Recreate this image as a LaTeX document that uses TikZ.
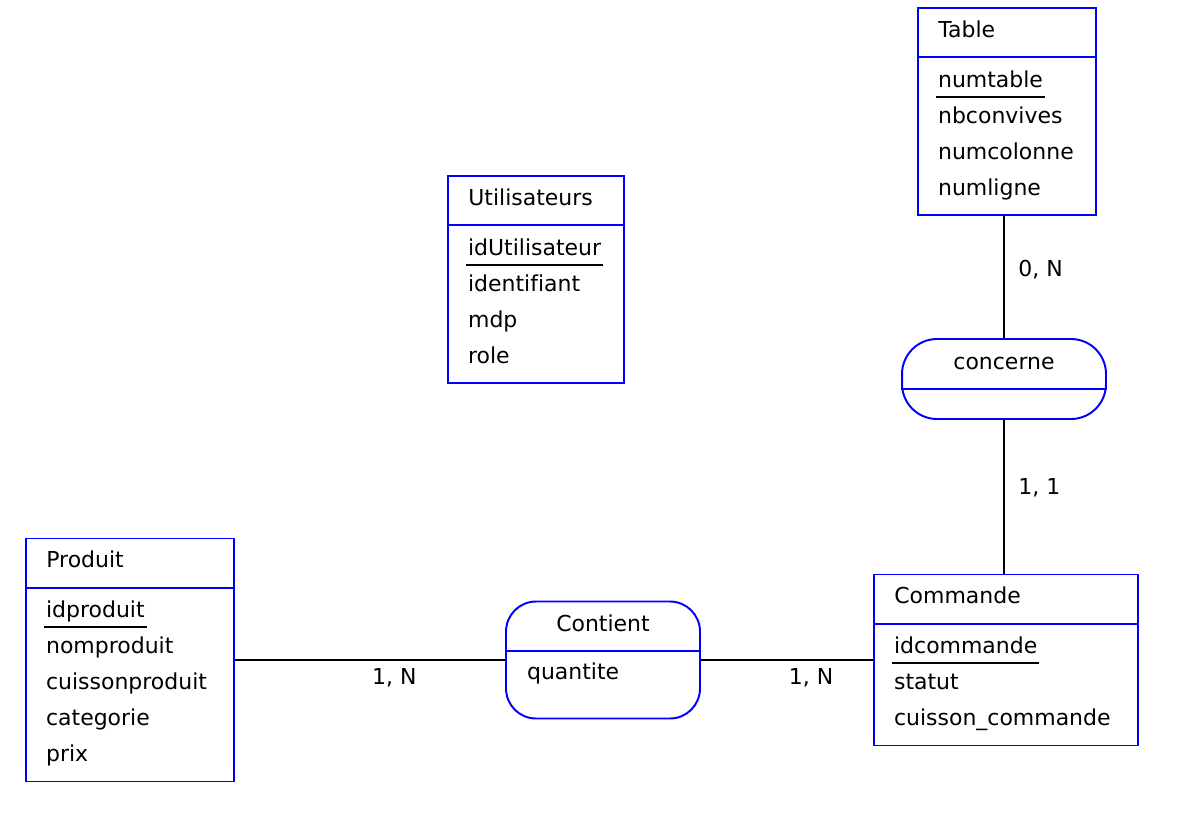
\documentclass[tikz,border=0pt]{standalone}
\usepackage{fontspec}
\setmainfont[Ligatures=NoCommon]{DejaVu Sans}
\usepackage{tikz}
\usetikzlibrary{positioning}

\begin{document}
\begin{tikzpicture}[x=0.02cm, y=-0.02cm,
  every node/.style={font=\fontsize{12.5}{15}\selectfont},
  entite/.style={draw=blue, line width=1.1pt, inner sep=0pt},
  asso/.style={entite, rounded corners=0.6cm},
  sep/.style={draw=blue, line width=1.1pt},
  titre/.style={anchor=west, inner sep=0pt, text height=9.5pt, text depth=3pt},
  attr/.style={anchor=west, inner xsep=1pt, inner ysep=2pt, text height=9.5pt, text depth=3pt},
  lien/.style={line width=1pt},
  card/.style={inner sep=2pt, text height=9.5pt, text depth=3pt}]
\useasboundingbox (0,0) rectangle (1182,814);

%entites
\node[entite, minimum width=3.56cm, minimum height=4.14cm] (tbl) at (1007,111.5) {};
\draw[sep] ([yshift=-1cm]tbl.north west) -- ([yshift=-1cm]tbl.north east);
\node[titre] (tbl-t) at (938,32) {Table};
\node[attr] (tbl-1) at (936,82) {numtable};
\node[attr] (tbl-2) at (936,118) {nbconvives};
\node[attr] (tbl-3) at (936,154) {numcolonne};
\node[attr] (tbl-4) at (936,190) {numligne};
\draw[lien] (tbl-1.south west) -- (tbl-1.south east);

\node[entite, minimum width=3.52cm, minimum height=4.14cm] (util) at (536,279.5) {};
\draw[sep] ([yshift=-1cm]util.north west) -- ([yshift=-1cm]util.north east);
\node[titre] (util-t) at (468,200) {Utilisateurs};
\node[attr] (util-1) at (466,250) {idUtilisateur};
\node[attr] (util-2) at (466,286) {identifiant};
\node[attr] (util-3) at (466,322) {mdp};
\node[attr] (util-4) at (466,358) {role};
\draw[lien] (util-1.south west) -- (util-1.south east);

\node[entite, minimum width=4.16cm, minimum height=4.86cm] (prod) at (130,660) {};
\draw[sep] ([yshift=-1cm]prod.north west) -- ([yshift=-1cm]prod.north east);
\node[titre] (prod-t) at (46,562) {Produit};
\node[attr] (prod-1) at (44,612) {idproduit};
\node[attr] (prod-2) at (44,648) {nomproduit};
\node[attr] (prod-3) at (44,684) {cuissonproduit};
\node[attr] (prod-4) at (44,720) {categorie};
\node[attr] (prod-5) at (44,756) {prix};
\draw[lien] (prod-1.south west) -- (prod-1.south east);

\node[entite, minimum width=5.28cm, minimum height=3.42cm] (cmd) at (1006,660) {};
\draw[sep] ([yshift=-1cm]cmd.north west) -- ([yshift=-1cm]cmd.north east);
\node[titre] (cmd-t) at (894,598) {Commande};
\node[attr] (cmd-1) at (892,648) {idcommande};
\node[attr] (cmd-2) at (892,684) {statut};
\node[attr] (cmd-3) at (892,720) {cuisson\_commande};
\draw[lien] (cmd-1.south west) -- (cmd-1.south east);

%associations
\node[asso, rounded corners=0.7cm, minimum width=4.08cm, minimum height=1.6cm] (conc) at (1004,379) {};
\draw[sep] ([yshift=-1.02cm]conc.north west) -- ([yshift=-1.02cm]conc.north east);
\node[titre, anchor=center] (conc-t) at (1004,364) {concerne};

\node[asso, minimum width=3.88cm, minimum height=2.34cm] (cont) at (603,660) {};
\draw[sep] ([yshift=-1cm]cont.north west) -- ([yshift=-1cm]cont.north east);
\node[titre, anchor=center] (cont-t) at (603,626) {Contient};
\node[attr] (cont-1) at (525,674) {quantite};

%liens
\draw[lien] (conc.north |- tbl.south) -- (conc.north) node[card, pos=0.45, right=0.2cm]{0, N};
\draw[lien] (conc.south) -- (conc.south |- cmd.north) node[card, pos=0.45, right=0.2cm]{1, 1};
\draw[lien] (prod.east) -- (cont.west) node[card, pos=0.59, below=0.07cm]{1, N};
\draw[lien] (cont.east) -- (cmd.west) node[card, pos=0.64, below=0.07cm]{1, N};
\end{tikzpicture}
\end{document}
